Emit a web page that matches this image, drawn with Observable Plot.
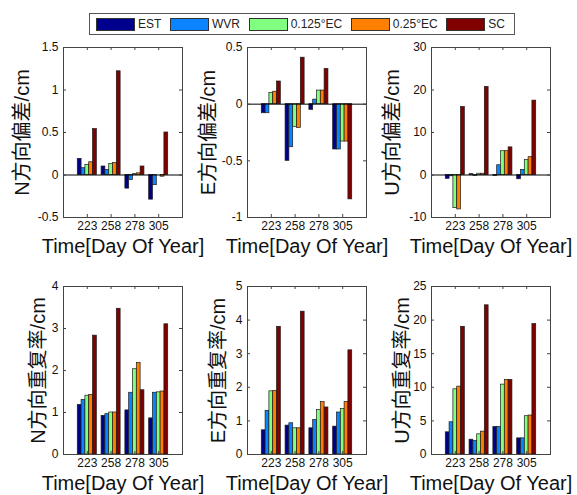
<!DOCTYPE html>
<html><head><meta charset="utf-8">
<script src="https://cdn.jsdelivr.net/npm/d3@7"></script>
<script src="https://cdn.jsdelivr.net/npm/@observablehq/plot@0.6"></script>
<style>
body{margin:0;background:#fff;}
#fig{position:relative;width:577px;height:495px;background:#fff;font-family:"Liberation Sans",Arial,"Noto Sans CJK SC",sans-serif;}
#fig svg{position:absolute;overflow:visible;}
.legend{position:absolute;left:89px;top:13px;width:426px;height:22px;box-sizing:border-box;border:1px solid #555;display:flex;align-items:center;justify-content:space-between;padding:0 9px 0 6px;font-size:12px;color:#222;background:#fff;}
.legend .item{display:flex;align-items:center;}
.legend .sw{width:39px;height:13px;box-sizing:border-box;border:1px solid #333;margin-right:3px;}
</style>
</head><body>
<div id="fig"></div>
<script>
// ---- data ----
const days = ["223", "258", "278", "305"];
const series = ["EST", "WVR", "0.125°EC", "0.25°EC", "SC"];
const colors = ["#00008f", "#0a84ff", "#80ff80", "#ff8000", "#800000"];

// each row = one series (EST, WVR, 0.125°EC, 0.25°EC, SC); columns = days
const nBias = [
  [0.19, 0.10, -0.16, -0.29],
  [0.08, 0.06, -0.06, -0.12],
  [0.12, 0.13, 0.01, 0.00],
  [0.15, 0.14, 0.02, -0.02],
  [0.54, 1.22, 0.10, 0.50]
];
const eBias = [
  [-0.08, -0.50, -0.05, -0.40],
  [-0.08, -0.38, 0.04, -0.40],
  [0.10, -0.20, 0.12, -0.33],
  [0.11, -0.21, 0.12, -0.33],
  [0.20, 0.41, 0.31, -0.84]
];
const uBias = [
  [-0.9, 0.2, -0.2, -1.0],
  [-0.3, -0.2, 2.3, 1.2],
  [-7.8, 0.3, 5.6, 3.5],
  [-8.1, 0.3, 5.6, 4.2],
  [16.0, 20.7, 6.5, 17.5]
];
const nRep = [
  [1.18, 0.92, 1.05, 0.86],
  [1.30, 0.96, 1.47, 1.47],
  [1.40, 1.00, 2.03, 1.48],
  [1.42, 1.00, 2.18, 1.50],
  [2.83, 3.47, 1.53, 3.10]
];
const eRep = [
  [0.72, 0.86, 0.78, 0.83],
  [1.30, 0.93, 1.03, 1.25],
  [1.88, 0.78, 1.32, 1.35],
  [1.89, 0.78, 1.56, 1.56],
  [3.80, 4.25, 1.40, 3.10]
];
const uRep = [
  [3.3, 2.2, 4.1, 2.4],
  [4.8, 2.0, 4.1, 2.4],
  [9.7, 3.0, 10.4, 5.7],
  [10.1, 3.4, 11.1, 5.8],
  [19.0, 22.2, 11.1, 19.4]
];
const nBiasTicks = [-0.5, 0, 0.5, 1, 1.5];
const eBiasTicks = [-1, -0.5, 0, 0.5];
const uBiasTicks = [-10, 0, 10, 20, 30];
const nRepTicks = [0, 1, 2, 3, 4];
const eRepTicks = [0, 1, 2, 3, 4, 5];
const uRepTicks = [0, 5, 10, 15, 20, 25];
const xTitle = "Time[Day Of Year]";

// ---- drawing ----
const fig = document.getElementById("fig");
const FONT = '"Liberation Sans", Arial, "Noto Sans CJK SC", sans-serif';
const groupWidth = 0.8;
const barW = groupWidth / series.length;
const dayPos = days.map((d, i) => i + 1);

// legend
const leg = document.createElement("div");
leg.className = "legend";
series.forEach((s, i) => {
  const it = document.createElement("div");
  it.className = "item";
  const sw = document.createElement("div");
  sw.className = "sw";
  sw.style.background = colors[i];
  const tx = document.createElement("span");
  tx.textContent = s;
  it.append(sw, tx);
  leg.append(it);
});
fig.append(leg);

function panel(values, yTicks, ylabel, left, top, fw, fh, labelOffset) {
  const rows = [];
  values.forEach((vals, s) => vals.forEach((v, g) => rows.push({series: series[s], s, g, v})));
  const mL = 62, mR = 8, mT = 8, mB = 44;
  const svg = Plot.plot({
    width: fw + mL + mR,
    height: fh + mT + mB,
    marginLeft: mL, marginRight: mR, marginTop: mT, marginBottom: mB,
    style: {fontFamily: FONT, background: "transparent", color: "#111", overflow: "visible"},
    x: {domain: [0, days.length + 1]},
    y: {domain: [yTicks[0], yTicks[yTicks.length - 1]]},
    color: {domain: series, range: colors},
    marks: [
      Plot.rectY(rows, {
        x1: d => d.g + 1 + (d.s - series.length / 2) * barW,
        x2: d => d.g + 1 + (d.s + 1 - series.length / 2) * barW,
        y1: 0, y2: "v", fill: "series", stroke: "#1a1a1a", strokeWidth: 0.7
      }),
      Plot.ruleY([0], {stroke: "#000", strokeWidth: 1}),
      Plot.tickY(yTicks, {y: d => d, insetRight: fw - 3, stroke: "#444"}),
      Plot.tickY(yTicks, {y: d => d, insetLeft: fw - 3, stroke: "#444"}),
      Plot.tickX(dayPos, {x: d => d, insetTop: fh - 3, stroke: "#444"}),
      Plot.tickX(dayPos, {x: d => d, insetBottom: fh - 3, stroke: "#444"}),
      Plot.frame({stroke: "#444"}),
      Plot.axisY({ticks: yTicks, tickSize: 0, tickPadding: 5, fontSize: 12, tickFormat: d => String(d), label: null}),
      Plot.axisX({ticks: dayPos, tickSize: 0, tickPadding: 4, fontSize: 12, tickFormat: i => days[i - 1], label: null}),
      Plot.text([ylabel], {text: d => d, frameAnchor: "left", rotate: -90, dx: -labelOffset, fontSize: 20, fill: "#111", textAnchor: "middle", lineAnchor: "middle"}),
      Plot.text([xTitle], {text: d => d, frameAnchor: "bottom", dy: 29.5, fontSize: 20, fill: "#111", textAnchor: "middle", lineAnchor: "middle"})
    ]
  });
  svg.style.left = (left - mL) + "px";
  svg.style.top = (top - mT) + "px";
  fig.append(svg);
}

panel(nBias, nBiasTicks, "N方向偏差/cm", 63, 47, 119, 170, 41);
panel(eBias, eBiasTicks, "E方向偏差/cm", 247, 47, 119, 170, 39);
panel(uBias, uBiasTicks, "U方向偏差/cm", 431, 47, 119, 170, 39);
panel(nRep, nRepTicks, "N方向重复率/cm", 63, 286, 119, 168, 25);
panel(eRep, eRepTicks, "E方向重复率/cm", 247, 286, 119, 168, 29);
panel(uRep, uRepTicks, "U方向重复率/cm", 431, 286, 119, 168, 29);
</script>
</body></html>
